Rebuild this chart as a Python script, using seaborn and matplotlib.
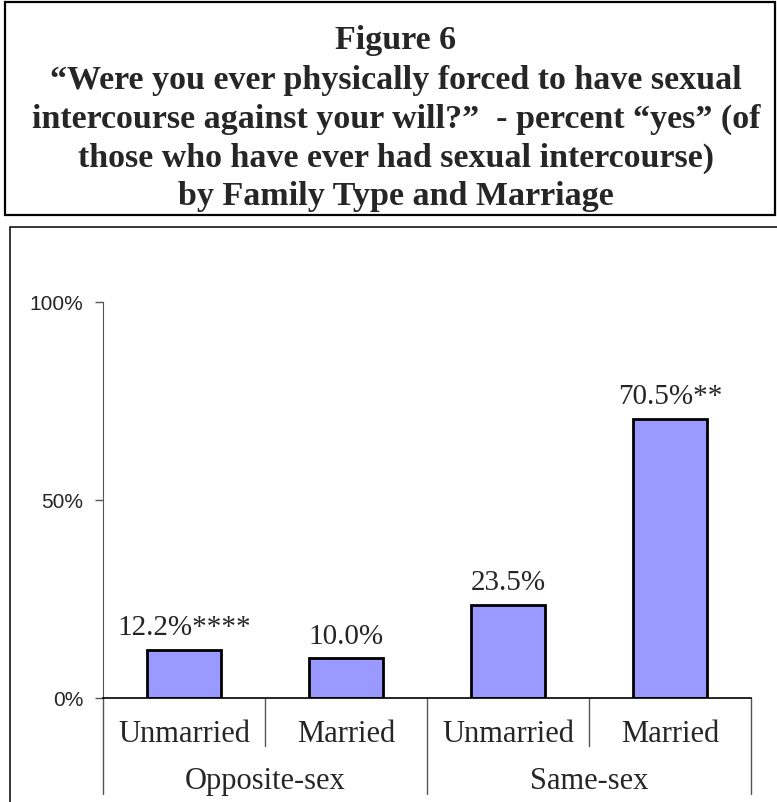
import pandas as pd
import numpy as np
import matplotlib.pyplot as plt
import seaborn as sns
from matplotlib.patches import Rectangle
from matplotlib.lines import Line2D

# data
family_type = ['Opposite-sex', 'Opposite-sex', 'Same-sex', 'Same-sex']
marriage = ['Unmarried', 'Married', 'Unmarried', 'Married']
pct_yes = [12.2, 10.0, 23.5, 70.5]
bar_labels = ['12.2%****', '10.0%', '23.5%', '70.5%**']
groups = ['Opposite-sex', 'Same-sex']

title_lines = [
    'Figure 6',
    '\u201cWere you ever physically forced to have sexual',
    'intercourse against your will?\u201d  - percent \u201cyes\u201d (of',
    'those who have ever had sexual intercourse)',
    'by Family Type and Marriage',
]

sns.set_style("white")
serif = ['Liberation Serif', 'DejaVu Serif']
sans = ['Liberation Sans', 'DejaVu Sans']

df = pd.DataFrame({'family': family_type, 'marriage': marriage, 'pct': pct_yes})
df['key'] = df['family'] + ' ' + df['marriage']

W, H = 777, 803
fig = plt.figure(figsize=(W / 100, H / 100), dpi=100)

# title box
fig.add_artist(Rectangle((5 / W, 1 - 216 / H), 770 / W, 213 / H, transform=fig.transFigure,
                         fill=False, edgecolor='black', linewidth=1.6))
line_y = [40, 80, 119, 158, 196]
for txt, yy in zip(title_lines, line_y):
    fig.text(396 / W, 1 - yy / H, txt, ha='center', va='center', fontsize=24.5,
             fontweight='bold', family=serif)

# chart frame
fig.add_artist(Rectangle((10 / W, -0.2), 1.2, 0.2 + (1 - 228 / H), transform=fig.transFigure,
                         fill=False, edgecolor='black', linewidth=1.1))

ax = fig.add_axes([103 / W, 1 - 699 / H, 648 / W, 396 / H])
sns.barplot(data=df, x='key', y='pct', color='#9999FF', edgecolor='black',
            linewidth=2, width=0.46, saturation=1, ax=ax)

ax.set_xlim(-0.5, 3.5)
ax.set_ylim(0, 100)
ax.set_yticks([0, 50, 100])
ax.set_yticklabels(['0%', '50%', '100%'], family=sans, fontsize=15)
ax.tick_params(axis='y', direction='out', length=6, width=1, color='#555555', pad=8, left=True)
ax.set_xticks(range(4))
ax.set_xticklabels(marriage, family=serif, fontsize=22)
ax.tick_params(axis='x', length=0, pad=15)
ax.set_xlabel('')
ax.set_ylabel('')
for s in ['top', 'right']:
    ax.spines[s].set_visible(False)
ax.spines['left'].set_color('#555555')
ax.spines['bottom'].set_color('black')
ax.spines['bottom'].set_linewidth(1.2)

# value labels
for i, (v, lab) in enumerate(zip(pct_yes, bar_labels)):
    ax.annotate(lab, (i, v), xytext=(0, 7), textcoords='offset points',
                ha='center', va='bottom', fontsize=21, family=serif)

# two-level category separators
trans = ax.get_xaxis_transform()
px = 1 / 396
for xs in [0.5, 2.5]:
    ax.add_line(Line2D([xs, xs], [0, -48 * px], transform=trans, color='#555555',
                       linewidth=1, clip_on=False))
for xs in [-0.5, 1.5, 3.5]:
    ax.add_line(Line2D([xs, xs], [0, -96 * px], transform=trans, color='#555555',
                       linewidth=1, clip_on=False))
for xg, g in zip([0.5, 2.5], groups):
    ax.text(xg, -83 * px, g, transform=trans, ha='center', va='center',
            fontsize=22, family=serif)

fig.savefig('out.png', dpi=100)
